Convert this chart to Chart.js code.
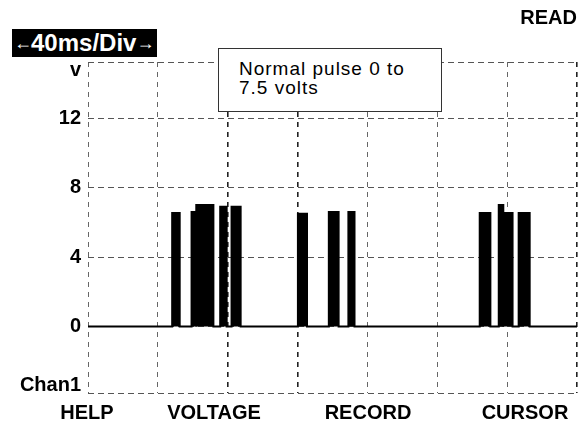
<!DOCTYPE html>
<html>
<head>
<meta charset="utf-8">
<script src="https://cdn.jsdelivr.net/npm/chart.js@4"></script>
<style>
  html, body { margin: 0; padding: 0; background: #fff; }
  body { width: 587px; height: 424px; position: relative; overflow: hidden;
         font-family: "Liberation Sans", Arial, Helvetica, sans-serif; }
  #scope { position: absolute; left: 0; top: 0; }
  .lbl { position: absolute; font-weight: bold; font-size: 20px; line-height: 20px; color: #000; white-space: nowrap; }
  .softkey { transform: translateX(-50%); top: 402px; }
  #timebase { position: absolute; left: 12px; top: 29px; width: 145px; height: 28px;
              background: #000; color: #fff; font-weight: bold; font-size: 24px; line-height: 28px;
              white-space: nowrap; padding-left: 2px; box-sizing: border-box; }
  #timebase .arrow { display: inline-block; width: 17px; text-align: center; font-size: 18px; vertical-align: 2px; }
  #note { position: absolute; left: 218px; top: 48px; width: 224px; height: 64px; box-sizing: border-box;
          border: 1.5px solid #333; background: #fff; padding: 9.5px 0 0 20px;
          font-size: 19px; line-height: 19.5px; letter-spacing: 1px; color: #000; }
</style>
</head>
<body>
<canvas id="scope" width="587" height="424"></canvas>
<div class="lbl" style="right:10px; top:6.5px;">READ</div>
<div id="timebase"><span class="arrow">←</span>40ms/Div<span class="arrow">→</span></div>
<div id="note">Normal pulse 0 to<br>7.5 volts</div>
<div id="softkeys"></div>
<script>
// time axis: 40 ms per division, 7 divisions
const timeMin = 0;
const timeMax = 280;
const timeStep = 40;

// voltage axis (tick values and what is printed beside them)
const voltMin = -3.83;
const voltMax = 15.25;
const yTickValues = [-3.83, -3.39, 0, 4, 8, 12, 14.75, 15.25];
const yTickLabels = ['', 'Chan1', '0', '4', '8', '12', 'v', ''];

// pulses (ms, volts)
const pulseStart = [48.2, 59.3, 62.0, 75.7, 82.2, 120.2, 137.9, 149.1, 224.3, 235.2, 237.8, 246.6];
const pulseEnd   = [52.5, 62.0, 71.8, 79.4, 87.4, 125.4, 143.5, 152.6, 230.4, 237.8, 243.1, 252.9];
const pulseLevel = [6.55, 6.6, 7.0, 6.9, 6.9, 6.5, 6.6, 6.6, 6.55, 7.0, 6.55, 6.55];

const softKeys = ['HELP', 'VOLTAGE', 'RECORD', 'CURSOR'];
const softKeyX = [87, 214, 368, 525];

softKeys.forEach((k, i) => {
  const d = document.createElement('div');
  d.className = 'lbl softkey';
  d.style.left = softKeyX[i] + 'px';
  d.textContent = k;
  document.getElementById('softkeys').appendChild(d);
});

function buildTrace() {
  const pts = [{ x: timeMin, y: 0 }];
  for (let i = 0; i < pulseStart.length; i++) {
    pts.push({ x: pulseStart[i], y: 0 });
    pts.push({ x: pulseStart[i], y: pulseLevel[i] });
    pts.push({ x: pulseEnd[i], y: pulseLevel[i] });
    pts.push({ x: pulseEnd[i], y: 0 });
  }
  pts.push({ x: timeMax, y: 0 });
  return pts;
}

const heavyLines = [80, 120, 280];

new Chart(document.getElementById('scope').getContext('2d'), {
  type: 'line',
  data: {
    datasets: [{
      data: buildTrace(),
      borderColor: '#000',
      backgroundColor: '#000',
      borderWidth: 2,
      fill: 'origin',
      tension: 0,
      pointRadius: 0,
    }],
  },
  options: {
    responsive: false,
    animation: false,
    events: [],
    layout: { padding: { left: 0, top: 62, right: 10, bottom: 31 } },
    plugins: { legend: { display: false }, tooltip: { enabled: false } },
    scales: {
      x: {
        type: 'linear',
        min: timeMin,
        max: timeMax,
        ticks: { display: false, stepSize: timeStep },
        grid: {
          drawTicks: false,
          color: ctx => heavyLines.includes(ctx.tick && ctx.tick.value) ? '#222' : '#666',
          lineWidth: ctx => heavyLines.includes(ctx.tick && ctx.tick.value) ? 1.6 : 1,
        },
        border: { display: false, dash: [5, 5] },
        afterFit: scale => { scale.height = 0; },
      },
      y: {
        min: voltMin,
        max: voltMax,
        afterBuildTicks: scale => {
          scale.ticks = yTickValues.map(v => ({ value: v }));
        },
        ticks: {
          padding: 7,
          color: '#000',
          font: { family: '"Liberation Sans", Arial, sans-serif', size: 20, weight: 'bold' },
          callback: (value, index) => yTickLabels[index],
        },
        grid: {
          drawTicks: false,
          color: ctx => (ctx.tick && yTickLabels[ctx.index] !== 'Chan1' && yTickLabels[ctx.index] !== 'v') ? '#555' : 'rgba(0,0,0,0)',
        },
        border: { display: false, dash: [6, 4] },
        afterFit: scale => { scale.width = 88; },
      },
    },
  },
});
</script>
</body>
</html>
